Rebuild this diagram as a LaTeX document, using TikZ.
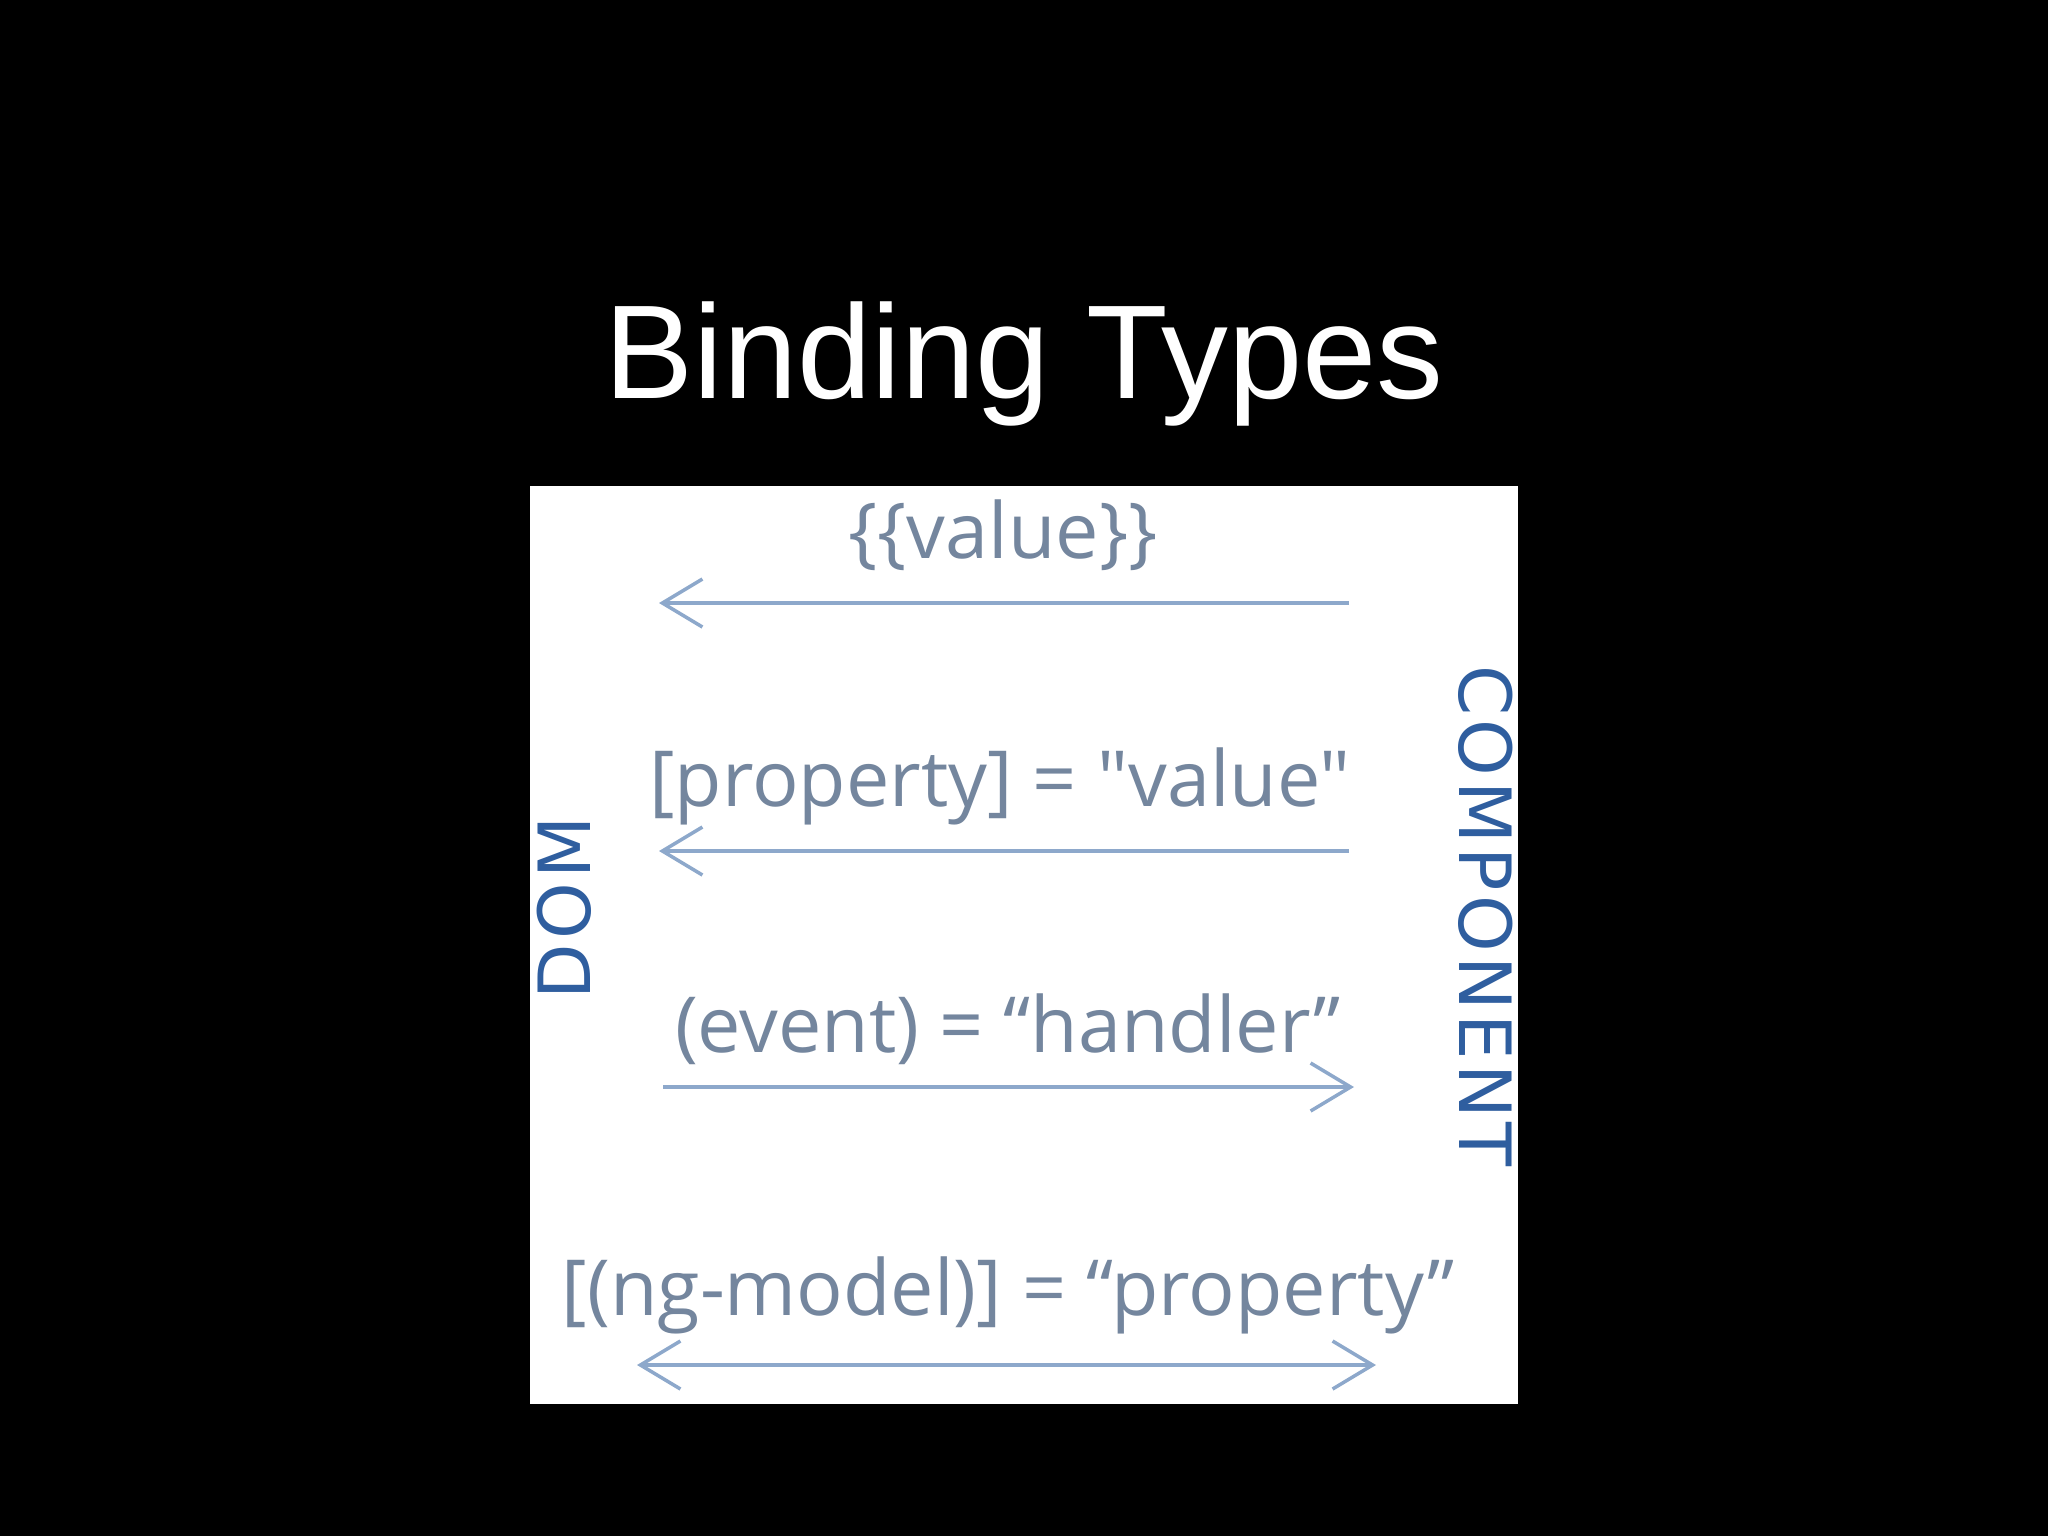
\documentclass[tikz,border=0pt]{standalone}
\usepackage{fontspec}
\setmainfont{Liberation Sans}
\newfontfamily\handfont{Open Sans}
\newfontfamily\labfont[LetterSpace=6]{DejaVu Sans}
\usetikzlibrary{arrows.meta}
\definecolor{handcol}{HTML}{74869E}
\definecolor{arrcol}{HTML}{8DA8CB}
\definecolor{labcol}{HTML}{2F5E9F}
\tikzset{
  hand/.style={font=\handfont\fontsize{22}{26}\selectfont, text=handcol, inner sep=0pt, anchor=base},
  lab/.style={font=\labfont\fontsize{20.5}{24}\selectfont, text=labcol, inner sep=0pt},
  bindarrow/.style={draw=arrcol, line width=0.4mm, arrows={-Straight Barb[length=4mm,width=4.8mm,line width=0.35mm]}},
  bindboth/.style={draw=arrcol, line width=0.4mm, arrows={Straight Barb[length=4mm,width=4.8mm,line width=0.35mm]-Straight Barb[length=4mm,width=4.8mm,line width=0.35mm]}}
}
\begin{document}
\begin{tikzpicture}[x=0.1mm,y=-0.1mm]
\useasboundingbox (0,0) rectangle (2048,1536);
\fill[black] (0,0) rectangle (2048,1536);
\fill[white] (530,486) rectangle (1518,1404);
\node[font=\fontsize{38}{44}\selectfont, text=white, inner sep=0pt, anchor=base] (title) at (1024,398) {Binding Types};
\node[hand] (val) at (1003,558) {\{\{value\}\}};
\node[hand] (prop) at (1000,806) {[property] = "value"};
\node[hand] (evt) at (1008,1052) {(event) = “handler”};
\node[hand] (ngm) at (1008,1315) {[(ng-model)] = “property”};
\node[lab, rotate=90] (dom) at (564,908) {DOM};
\node[lab, rotate=-90] (comp) at (1486,916) {COMPONENT};
\coordinate (a1r) at (1349,603);
\coordinate (a1l) at (659,603);
\coordinate (a2r) at (1349,851);
\coordinate (a2l) at (659,851);
\coordinate (a3l) at (663,1087);
\coordinate (a3r) at (1354,1087);
\coordinate (a4l) at (637,1365);
\coordinate (a4r) at (1376,1365);
\draw[bindarrow] (a1r) -- (a1l);
\draw[bindarrow] (a2r) -- (a2l);
\draw[bindarrow] (a3l) -- (a3r);
\draw[bindboth] (a4l) -- (a4r);
\end{tikzpicture}
\end{document}
